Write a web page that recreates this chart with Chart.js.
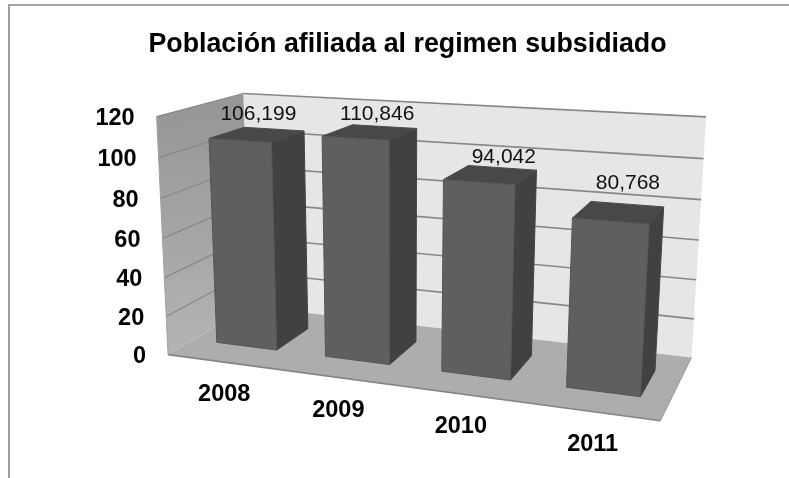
<!DOCTYPE html>
<html>
<head>
<meta charset="utf-8">
<style>html,body{margin:0;padding:0;background:#fff}#w{width:789px;height:478px}</style>
<script src="https://cdn.jsdelivr.net/npm/chart.js@4"></script>
</head>
<body>
<div id="w"><canvas id="c" width="789" height="478"></canvas></div>
<script>
const categories = ['2008','2009','2010','2011'];
const values = [106.199,110.846,94.042,80.768];
const yTicks = [0,20,40,60,80,100,120];
const titleText = 'Población afiliada al regimen subsidiado';

// Perspective box, corner references: [u, v, w, screenX, screenY]
const boxCorners = [
  [0,0,0,169,355],[1,0,0,660,421],[0,0,1,249,306],[1,0,1,692,357],
  [0,1,0,156,116],[0,1,1,244,94],[1,1,1,706,117]
];
const barDepth = [0.29,0.71];
const labelShift = [[1,-20],[7,-18],[13,-18],[9,-29]];

function solve(A,b){
  const n=b.length, M=A.map((r,i)=>[...r,b[i]]);
  for(let i=0;i<n;i++){
    let p=i; for(let r=i+1;r<n;r++) if(Math.abs(M[r][i])>Math.abs(M[p][i])) p=r;
    [M[i],M[p]]=[M[p],M[i]];
    for(let r=0;r<n;r++){ if(r===i) continue; const f=M[r][i]/M[i][i];
      for(let c=i;c<=n;c++) M[r][c]-=f*M[i][c]; }
  }
  return M.map((r,i)=>r[n]/r[i]);
}
const cam=(function(){
  const rows=[],rhs=[];
  boxCorners.forEach(([u,v,w,X,Y])=>{
    rows.push([1,u,v,w,0,0,0,0,-X*u,-X*v,-X*w]); rhs.push(X);
    rows.push([0,0,0,0,1,u,v,w,-Y*u,-Y*v,-Y*w]); rhs.push(Y);
  });
  const n=11, AtA=[...Array(n)].map(()=>Array(n).fill(0)), Atb=Array(n).fill(0);
  rows.forEach((r,k)=>{for(let i=0;i<n;i++){Atb[i]+=r[i]*rhs[k];for(let j=0;j<n;j++)AtA[i][j]+=r[i]*r[j];}});
  return solve(AtA,Atb);
})();
function P(u,v,w){
  const d=1+cam[8]*u+cam[9]*v+cam[10]*w;
  return [(cam[0]+cam[1]*u+cam[2]*v+cam[3]*w)/d,(cam[4]+cam[5]*u+cam[6]*v+cam[7]*w)/d];
}
function poly(ctx,pts,fill,stroke,lw){
  ctx.beginPath(); pts.forEach((p,i)=>i?ctx.lineTo(p[0],p[1]):ctx.moveTo(p[0],p[1])); ctx.closePath();
  if(fill){ctx.fillStyle=fill;ctx.fill();}
  if(stroke){ctx.strokeStyle=stroke;ctx.lineWidth=lw||1;ctx.stroke();}
}
function line(ctx,a,b,color,lw){
  ctx.beginPath();ctx.moveTo(a[0],a[1]);ctx.lineTo(b[0],b[1]);ctx.strokeStyle=color;ctx.lineWidth=lw;ctx.stroke();
}
const box3d={
  id:'box3d',
  beforeDatasetsDraw(chart){
    const ctx=chart.ctx,y=chart.scales.y;
    ctx.save();
    // frame
    line(ctx,[9,5],[789,5],'#868686',1.6);
    line(ctx,[9,4.2],[9,478],'#868686',1.6);
    // back wall
    poly(ctx,[P(0,0,1),P(1,0,1),P(1,1,1),P(0,1,1)],'#e6e6e6');
    // left wall
    const a=P(0,1,0),b=P(0,0,0);
    const g=ctx.createLinearGradient(a[0],a[1],b[0],b[1]);
    g.addColorStop(0,'#979797');g.addColorStop(1,'#b4b4b4');
    poly(ctx,[P(0,0,0),P(0,0,1),P(0,1,1),P(0,1,0)],g);
    // floor
    poly(ctx,[P(0,0,0),P(1,0,0),P(1,0,1),P(0,0,1)],'#adadad');
    line(ctx,P(0,0,0),P(1,0,0),'#858585',1.6);
    line(ctx,P(1,0,0),P(1,0,1),'#999999',1);
    // grid lines
    y.ticks.forEach(t=>{
      const v=(y.bottom-y.getPixelForValue(t.value))/(y.bottom-y.top);
      if(v>0){
        line(ctx,P(0,v,0),P(0,v,1),'#868686',1.2);
        line(ctx,P(0,v,1),P(1,v,1),'#868686',1.6);
      }
    });
    line(ctx,P(0,0,0),P(0,1,0),'#a0a0a0',1);
    ctx.restore();
  },
  beforeDatasetDraw(chart,args){
    const ctx=chart.ctx,x=chart.scales.x,y=chart.scales.y;
    const W=x.right-x.left,H=y.bottom-y.top;
    ctx.save();
    args.meta.data.forEach(el=>{
      const u0=(el.x-el.width/2-x.left)/W,u1=(el.x+el.width/2-x.left)/W;
      const v=(y.bottom-el.y)/H,v0=(y.bottom-el.base)/H;
      const [w0,w1]=barDepth;
      poly(ctx,[P(u1,v0,w0),P(u1,v0,w1),P(u1,v,w1),P(u1,v,w0)],'#414141','#454545',1);
      poly(ctx,[P(u0,v,w0),P(u1,v,w0),P(u1,v,w1),P(u0,v,w1)],'#484848','#4b4b4b',1);
      poly(ctx,[P(u0,v0,w0),P(u1,v0,w0),P(u1,v,w0),P(u0,v,w0)],'#5f5f5f','#555555',1);
    });
    ctx.restore();
    return false;
  },
  afterDatasetsDraw(chart){
    const ctx=chart.ctx,x=chart.scales.x,y=chart.scales.y;
    const W=x.right-x.left,H=y.bottom-y.top;
    ctx.save();
    ctx.fillStyle='#000';
    ctx.textBaseline='middle';
    // value axis labels
    ctx.font='bold 23.5px "Liberation Sans"';
    ctx.textAlign='right';
    y.ticks.forEach(t=>{
      const v=(y.bottom-y.getPixelForValue(t.value))/H, p=P(0,v,0);
      ctx.fillText(t.label,p[0]-22,p[1]+2);
    });
    // category labels
    ctx.textAlign='center';
    categories.forEach((c,i)=>{
      const p=P((x.getPixelForTick(i)-x.left)/W,0,0);
      ctx.fillText(x.getLabelForValue(i),p[0]+2,p[1]+33);
    });
    // data labels
    ctx.font='21px "Liberation Sans"';
    ctx.fillStyle='#111';
    chart.getDatasetMeta(0).data.forEach((el,i)=>{
      const p=P((el.x-x.left)/W,(y.bottom-el.y)/H,0.5);
      const s=values[i].toFixed(3).replace('.',',');
      ctx.fillText(s,p[0]+labelShift[i][0],p[1]+labelShift[i][1]);
    });
    ctx.restore();
  }
};
new Chart(document.getElementById('c'),{
  type:'bar',
  data:{labels:categories,datasets:[{label:titleText,data:values,backgroundColor:'#5f5f5f',categoryPercentage:1,barPercentage:0.56}]},
  options:{
    responsive:false,animation:false,
    layout:{padding:{left:26,top:20}},
    plugins:{
      legend:{display:false},tooltip:{enabled:false},
      title:{display:true,text:titleText,color:'#000',font:{family:'"Liberation Sans"',size:26.8,weight:'bold'},padding:{top:9,bottom:0}}
    },
    scales:{
      x:{display:false},
      y:{display:false,min:yTicks[0],max:yTicks[yTicks.length-1],ticks:{stepSize:20}}
    }
  },
  plugins:[box3d]
});
</script>
</body>
</html>
